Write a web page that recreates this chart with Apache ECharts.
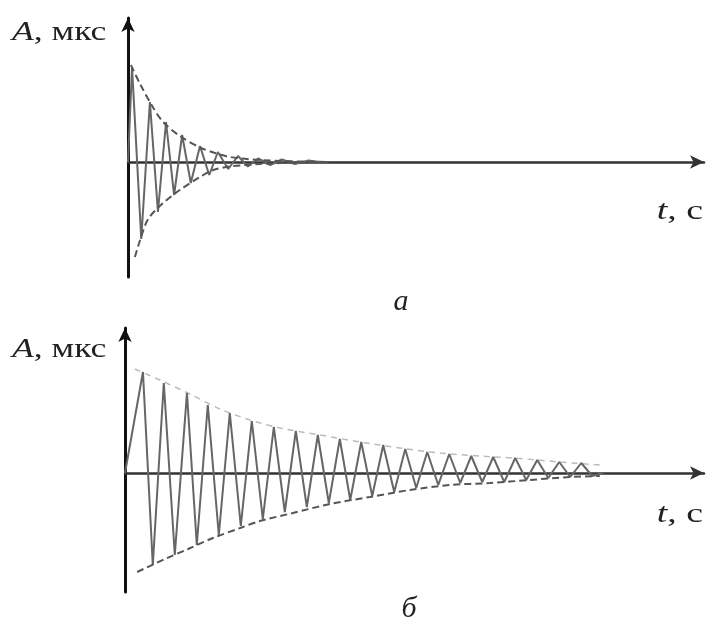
<!DOCTYPE html>
<html>
<head>
<meta charset="utf-8">
<script src="https://cdn.jsdelivr.net/npm/echarts@6/dist/echarts.min.js"></script>
<style>
  html, body { margin: 0; padding: 0; background: #fff; }
  #chart { width: 706px; height: 626px; }
</style>
</head>
<body>
<div id="chart"></div>
<script>
// Panel "а": fast decay (time units, amplitude units)
const tA = [0, 0.7, 2.3, 3.8, 5.2, 6.6, 8.0, 9.4, 10.9, 12.5, 14.1, 15.6, 17.4, 19.1, 20.8, 22.6, 24.7, 26.7, 29.0, 31.3, 33.3];
const ampA = [0, 0.95, -0.77, 0.60, -0.50, 0.40, -0.33, 0.27, -0.21, 0.16, -0.13, 0.10, -0.07, 0.06, -0.045, 0.035, -0.03, 0.025, -0.02, 0.015, 0];
const tEnvAUp = [0.5, 2.1, 4.2, 6.1, 9.0, 12.5, 15.1, 17.7, 22.9, 29.9, 35.0];
const envAUp = [0.97, 0.78, 0.56, 0.40, 0.26, 0.145, 0.09, 0.05, 0.02, 0.005, 0];
const tEnvALow = [1.2, 2.1, 3.5, 6.1, 9.0, 12.5, 14.8, 17.7, 22.9, 29.9, 35.0];
const envALow = [-0.95, -0.78, -0.57, -0.41, -0.28, -0.15, -0.08, -0.045, -0.02, -0.005, 0];

// Panel "б": slow decay
const tB = [0, 3.1, 4.8, 6.7, 8.6, 10.7, 12.4, 14.3, 16.2, 18.1, 20.0, 21.9, 23.8, 25.7, 27.6, 29.5, 31.4, 33.3, 35.2, 37.1, 38.9, 40.8, 42.7, 44.6, 46.5, 48.4, 50.3, 52.2, 54.1, 56.0, 57.9, 59.8, 61.7, 63.6, 65.5, 67.4, 69.3, 71.2, 73.1, 75.0, 76.9, 78.8, 80.7, 82.6];
const ampB = [0, 1.01, -0.92, 0.90, -0.82, 0.80, -0.72, 0.68, -0.62, 0.60, -0.53, 0.52, -0.46, 0.46, -0.39, 0.42, -0.34, 0.38, -0.30, 0.34, -0.27, 0.31, -0.23, 0.28, -0.19, 0.24, -0.15, 0.21, -0.12, 0.19, -0.10, 0.17, -0.09, 0.16, -0.09, 0.15, -0.07, 0.13, -0.05, 0.11, -0.04, 0.10, -0.03, 0];
const tEnvBUp = [1.7, 6.0, 11.2, 16.4, 21.6, 26.8, 33.7, 40.6, 47.5, 54.4, 61.3, 68.2, 75.1, 82.0];
const envBUp = [1.04, 0.93, 0.79, 0.64, 0.53, 0.45, 0.38, 0.31, 0.25, 0.20, 0.17, 0.145, 0.11, 0.08];
const tEnvBLow = [2.1, 6.9, 10.9, 15.2, 19.9, 23.3, 29.0, 35.4, 42.3, 49.2, 56.1, 63.0, 69.9, 76.9, 82.0];
const envBLow = [-0.99, -0.86, -0.76, -0.65, -0.55, -0.48, -0.40, -0.31, -0.24, -0.17, -0.12, -0.10, -0.07, -0.04, -0.03];

const zip = (xs, ys) => xs.map((x, i) => [x, ys[i]]);

const serif = '"Liberation Serif", "Times New Roman", serif';

function xAxisFor(idx) {
  return {
    gridIndex: idx, type: 'value', min: 0, max: 100,
    axisLine: { onZero: true, symbol: ['none', 'arrow'], symbolSize: [10, 14],
      lineStyle: { color: '#333', width: 2.5 } },
    axisTick: { show: false }, axisLabel: { show: false }, splitLine: { show: false }
  };
}
function yAxisFor(idx, min, max) {
  return {
    gridIndex: idx, type: 'value', min: min, max: max,
    axisLine: { show: true, symbol: ['none', 'arrow'], symbolSize: [10, 14],
      lineStyle: { color: '#111', width: 3 } },
    axisTick: { show: false }, axisLabel: { show: false }, splitLine: { show: false }
  };
}

const waveStyle = { color: '#666', width: 2 };
const envStyle = { color: '#555', width: 2, type: [7, 4] };

function axisTitle(x, y, main, tail, align, sx) {
  return {
    type: 'text', x: x, y: y, scaleX: sx,
    style: {
      text: '{i|' + main + '}{n|' + tail + '}',
      align: align, verticalAlign: 'middle',
      rich: {
        i: { fontFamily: serif, fontStyle: 'italic', fontSize: 27, fill: '#222' },
        n: { fontFamily: serif, fontSize: 27, fill: '#222' }
      }
    }
  };
}

const chart = echarts.init(document.getElementById('chart'), null, { renderer: 'canvas' });
chart.setOption({
  animation: false,
  backgroundColor: '#fff',
  grid: [
    { left: 128, top: 18, width: 576, height: 259 },
    { left: 125, top: 328, width: 579, height: 264 }
  ],
  xAxis: [xAxisFor(0), xAxisFor(1)],
  yAxis: [yAxisFor(0, -1.15, 1.44), yAxisFor(1, -1.19, 1.45)],
  series: [
    { type: 'line', xAxisIndex: 0, yAxisIndex: 0, data: zip(tA, ampA), showSymbol: false, lineStyle: waveStyle, z: 3 },
    { type: 'line', xAxisIndex: 0, yAxisIndex: 0, data: zip(tEnvAUp, envAUp), smooth: 0.3, showSymbol: false, lineStyle: envStyle, z: 4 },
    { type: 'line', xAxisIndex: 0, yAxisIndex: 0, data: zip(tEnvALow, envALow), smooth: 0.3, showSymbol: false, lineStyle: envStyle, z: 4 },
    { type: 'line', xAxisIndex: 1, yAxisIndex: 1, data: zip(tB, ampB), showSymbol: false, lineStyle: waveStyle, z: 3 },
    { type: 'line', xAxisIndex: 1, yAxisIndex: 1, data: zip(tEnvBUp, envBUp), smooth: 0.3, showSymbol: false, lineStyle: { color: '#bbb', width: 1.5, type: [6, 5] }, z: 2 },
    { type: 'line', xAxisIndex: 1, yAxisIndex: 1, data: zip(tEnvBLow, envBLow), smooth: 0.3, showSymbol: false, lineStyle: envStyle, z: 4 }
  ],
  graphic: [
    axisTitle(12, 33, 'A', ', мкс', 'left', 1.32),
    axisTitle(12, 350, 'A', ', мкс', 'left', 1.32),
    axisTitle(703, 212, 't', ', с', 'right', 1.4),
    axisTitle(703, 515, 't', ', с', 'right', 1.4),
    { type: 'text', x: 401, y: 302, style: { text: 'а', font: 'italic 30px ' + serif, fill: '#222', align: 'center', verticalAlign: 'middle' } },
    { type: 'text', x: 409, y: 609, style: { text: 'б', font: 'italic 30px ' + serif, fill: '#222', align: 'center', verticalAlign: 'middle' } }
  ]
});
</script>
</body>
</html>
